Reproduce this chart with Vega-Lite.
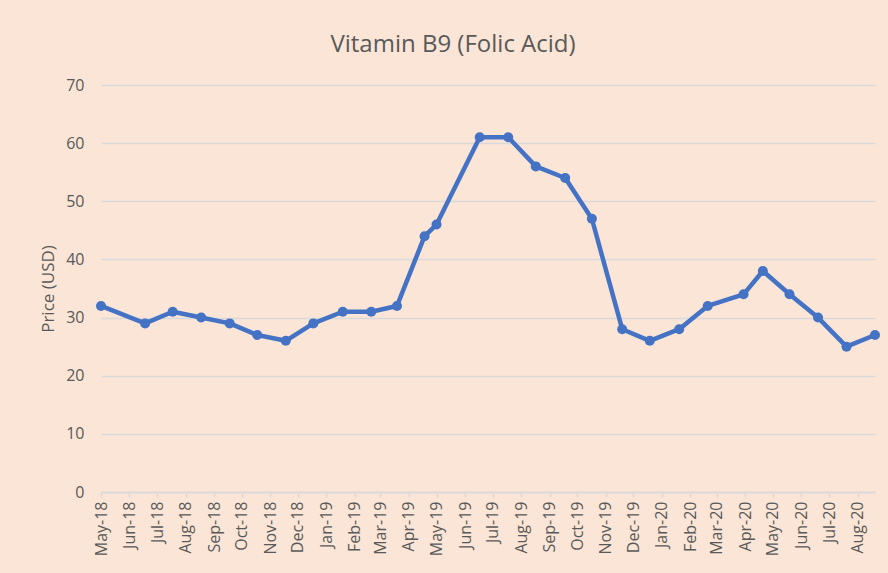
{
  "$schema": "https://vega.github.io/schema/vega-lite/v6.json",
  "autosize": {"type": "none"},
  "width": 774,
  "height": 407,
  "padding": {"left": 101, "top": 85, "right": 13, "bottom": 81},
  "background": "#FBE5D6",
  "title": {
    "text": "Vitamin B9 (Folic Acid)",
    "font": "Open Sans",
    "fontSize": 24,
    "fontWeight": "normal",
    "color": "#595959",
    "anchor": "middle",
    "dx": -35,
    "offset": 20
  },
  "config": {
    "view": {"stroke": null},
    "font": "Open Sans"
  },
  "data": {
    "values": [
      {"date": "2018-05-01", "price": 32},
      {"date": "2018-06-18", "price": 29},
      {"date": "2018-07-18", "price": 31},
      {"date": "2018-08-18", "price": 30},
      {"date": "2018-09-18", "price": 29},
      {"date": "2018-10-18", "price": 27},
      {"date": "2018-11-18", "price": 26},
      {"date": "2018-12-18", "price": 29},
      {"date": "2019-01-19", "price": 31},
      {"date": "2019-02-19", "price": 31},
      {"date": "2019-03-19", "price": 32},
      {"date": "2019-04-18", "price": 44},
      {"date": "2019-05-01", "price": 46},
      {"date": "2019-06-17", "price": 61},
      {"date": "2019-07-18", "price": 61},
      {"date": "2019-08-17", "price": 56},
      {"date": "2019-09-18", "price": 54},
      {"date": "2019-10-17", "price": 47},
      {"date": "2019-11-19", "price": 28},
      {"date": "2019-12-19", "price": 26},
      {"date": "2020-01-20", "price": 28},
      {"date": "2020-02-20", "price": 32},
      {"date": "2020-03-30", "price": 34},
      {"date": "2020-04-20", "price": 38},
      {"date": "2020-05-19", "price": 34},
      {"date": "2020-06-19", "price": 30},
      {"date": "2020-07-20", "price": 25},
      {"date": "2020-08-20", "price": 27}
    ]
  },
  "mark": {
    "type": "line",
    "color": "#4472C4",
    "strokeWidth": 4.5,
    "strokeJoin": "round",
    "point": {"filled": true, "size": 100, "color": "#4472C4", "opacity": 1}
  },
  "encoding": {
    "x": {
      "field": "date",
      "type": "temporal",
      "scale": {"type": "utc", "domain": ["2018-05-01", "2020-08-20"], "nice": false},
      "axis": {
        "title": null,
        "format": "%b-%y",
        "tickCount": {"interval": "month", "step": 1},
        "labelAngle": -90,
        "labelFontSize": 16,
        "labelColor": "#595959",
        "labelPadding": 4,
        "labelOverlap": false,
        "labelFlush": false,
        "domainColor": "#D9D9D9",
        "domainWidth": 1.5,
        "tickColor": "#D9D9D9",
        "tickWidth": 1.5,
        "tickSize": 5,
        "grid": false
      }
    },
    "y": {
      "field": "price",
      "type": "quantitative",
      "scale": {"domain": [0, 70], "nice": false},
      "axis": {
        "title": "Price (USD)",
        "titleFontSize": 17,
        "titleFontWeight": "normal",
        "titleColor": "#595959",
        "titlePadding": 8,
        "values": [0, 10, 20, 30, 40, 50, 60, 70],
        "labelFontSize": 16,
        "labelColor": "#595959",
        "labelPadding": 17,
        "domain": false,
        "ticks": false,
        "gridColor": "#D9D9D9",
        "gridWidth": 1.5
      }
    }
  }
}
